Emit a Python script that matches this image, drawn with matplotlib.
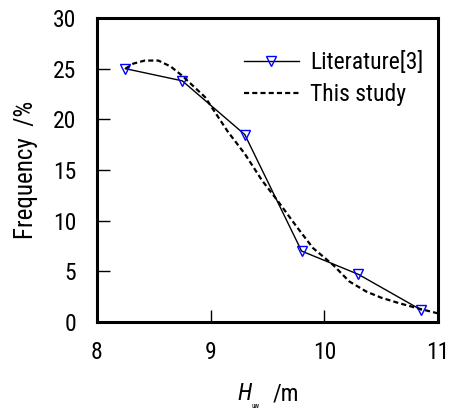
import matplotlib
matplotlib.use("Agg")
import matplotlib.pyplot as plt

# ---- data ----
lit_x = [8.25, 8.75, 9.30, 9.80, 10.30, 10.85]
lit_y = [25.0, 23.8, 18.5, 7.0, 4.7, 1.2]

study_x = [8.25, 8.32, 8.42, 8.54, 8.65, 8.75, 8.95, 9.15, 9.30, 9.45,
           9.60, 9.75, 9.90, 10.08, 10.22, 10.37, 10.50, 10.66, 10.84, 11.0]
study_y = [25.0, 25.5, 25.8, 25.8, 25.2, 24.3, 22.2, 18.8, 16.6, 14.0,
           11.8, 9.5, 7.3, 5.6, 4.0, 3.0, 2.4, 1.85, 1.3, 0.85]

x_ticks = [8, 9, 10, 11]
y_ticks = [0, 5, 10, 15, 20, 25, 30]

plt.rcParams['font.family'] = ['Roboto Condensed', 'DejaVu Sans']

fig = plt.figure(figsize=(4.49, 4.09), dpi=100)
ax = fig.add_axes([97 / 449, 87 / 409, 341 / 449, 304 / 409])

ax.plot(lit_x, lit_y, '-', color='black', lw=1.0, marker='v', ms=7,
        mfc='none', mec='blue', mew=1.0, label='Literature[3]')
ax.plot(study_x, study_y, color='black', lw=1.6, ls=(0, (2.3, 1.4)),
        label='This study')

ax.set_xlim(8, 11)
ax.set_ylim(0, 30)
ax.set_xticks(x_ticks)
ax.set_yticks(y_ticks)
ax.tick_params(direction='in', length=9, width=1, labelsize=17)
ax.tick_params(axis='x', pad=14)
ax.tick_params(axis='y', pad=15)
for s in ax.spines.values():
    s.set_linewidth(2.2)

ax.set_ylabel('Frequency  /%', fontsize=18, labelpad=11)

# x label with small subscript, built from separate text pieces
fig.text(237 / 449, 9 / 409, 'H', fontsize=17, style='italic', ha='left', va='baseline')
fig.text(252 / 449, 1 / 409, 'uw', fontsize=5, ha='left', va='baseline')
fig.text(273 / 449, 9 / 409, '/m', fontsize=17, ha='left', va='baseline')

ax.legend(loc='upper left', bbox_to_anchor=(0.404, 0.921), borderaxespad=0,
          frameon=False, fontsize=17, handlelength=2.3, handletextpad=0.5,
          labelspacing=0.36)

fig.savefig('out.png', dpi=100)
